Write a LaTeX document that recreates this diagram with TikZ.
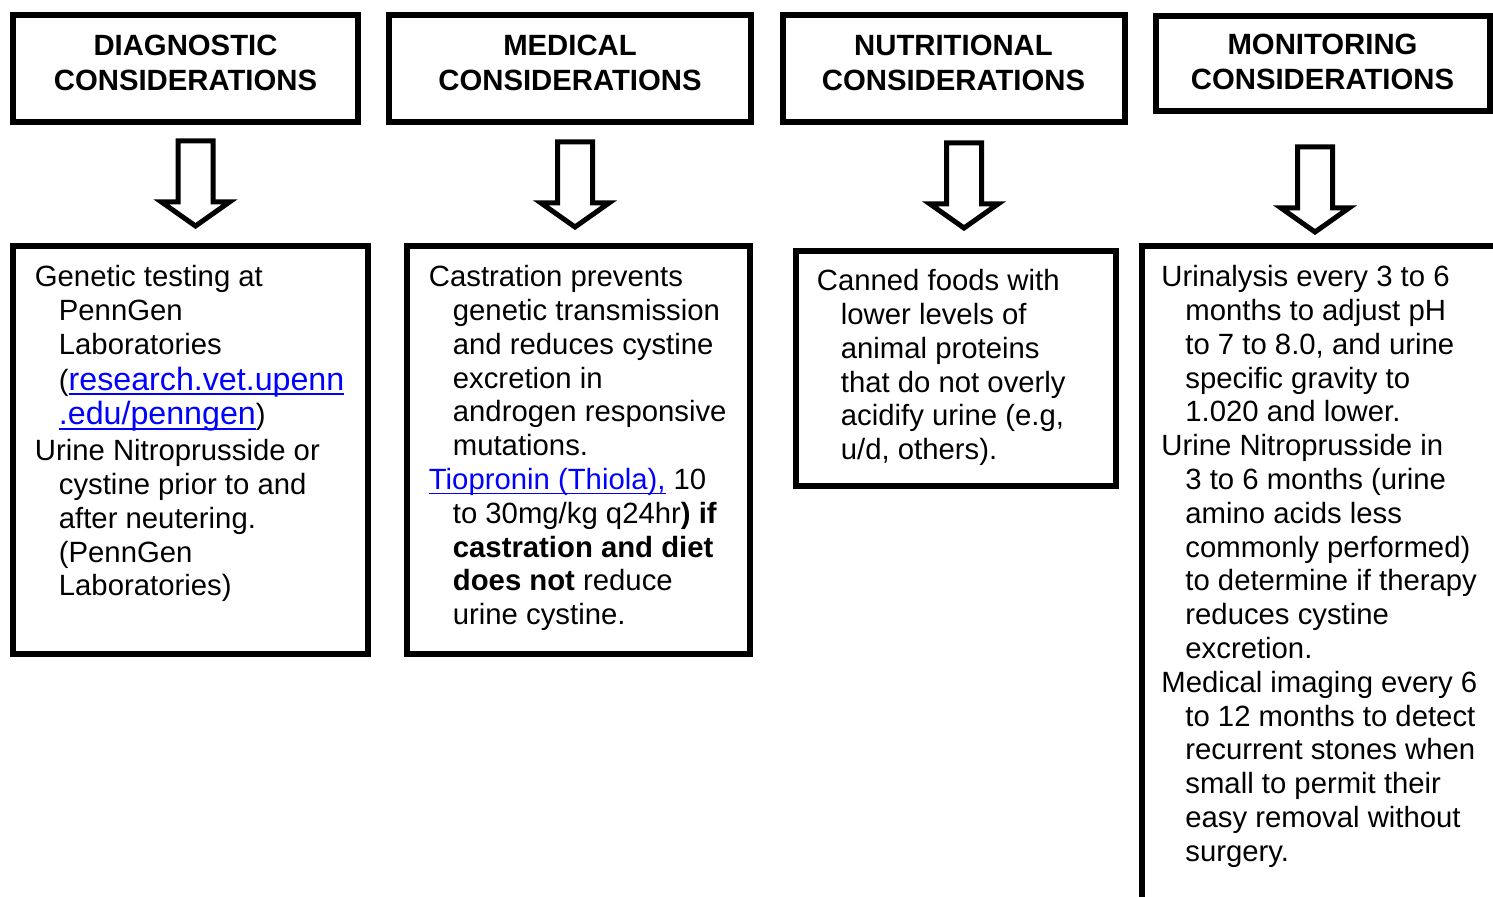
\documentclass[tikz,border=0pt]{standalone}
\usepackage{fontspec}
\setmainfont{Liberation Sans}
\definecolor{linkblue}{RGB}{0,0,255}
\newsavebox{\lnkbox}
\newcommand{\lnk}[1]{\textcolor{linkblue}{\sbox{\lnkbox}{#1}\rlap{\rule[-2.5pt]{\wd\lnkbox}{0.9pt}}\usebox{\lnkbox}}}
\newcommand{\biglnk}[1]{{\fontsize{16.1}{16.9}\selectfont\lnk{#1}}}
\newcommand{\hin}{\hspace*{12pt}}

\begin{document}
\begin{tikzpicture}[x=0.5pt,y=-0.5pt,
    frame/.style={line width=3pt},
    headtext/.style={font={\fontsize{14.65}{17.5}\selectfont\bfseries}, align=center, inner sep=0pt},
    bodytext/.style={font={\fontsize{14.65}{16.9}\selectfont}, align=left, inner sep=0pt, anchor=north west},
    blockarrow/.style={line width=2.5pt, line join=miter, fill=white}]
		\useasboundingbox (0,0) rectangle (1493,897);
		\clip (0,0) rectangle (1493,897);
		
		% Header boxes
		\draw[frame] (13,15.5) rectangle (357.5,121.7);
		\draw[frame] (389,15.5) rectangle (751,121.7);
		\draw[frame] (783,15.5) rectangle (1124.5,121.7);
		\draw[frame] (1156,16) rectangle (1490,111);
		\node[headtext] (diaghead) at (185.5,62.5) {DIAGNOSTIC\\CONSIDERATIONS};
		\node[headtext] (medhead) at (570,62.5) {MEDICAL\\CONSIDERATIONS};
		\node[headtext] (nutrhead) at (953.5,62.5) {NUTRITIONAL\\CONSIDERATIONS};
		\node[headtext] (monhead) at (1322.5,61.5) {MONITORING\\CONSIDERATIONS};
		
		% Block arrows
		\foreach \ax/\ay in {195.5/141,575/142,964/143,1315/147}
		\draw[blockarrow, shift={(\ax,\ay)}] (-17.5,0) -- (17.5,0) -- (17.5,61) -- (34,61) -- (0,85) -- (-34,61) -- (-17.5,61) -- cycle;
		
		% Lower boxes
		\draw[frame] (13,246) rectangle (367.5,653.5);
		\draw[frame] (407,246) rectangle (750,653.5);
		\draw[frame] (795.5,251.5) rectangle (1115.5,486.5);
		\draw[frame] (1141.5,246) rectangle (1530,930);
		
		% Texts
		\node[bodytext] (diagtext) at (34.5,265) {Genetic testing at\\
			\hin PennGen\\
			\hin Laboratories\\[1pt]
			\hin (\biglnk{research.vet.upenn}\\[0.5pt]
			\hin \biglnk{.edu/penngen})\\[1pt]
			Urine Nitroprusside or\\
			\hin cystine prior to and\\
			\hin after neutering.\\
			\hin (PennGen\\
			\hin Laboratories)};
		\node[bodytext] (medtext) at (428.5,265) {Castration prevents\\
			\hin genetic transmission\\
			\hin and reduces cystine\\
			\hin excretion in\\
			\hin androgen responsive\\
			\hin mutations.\\
			\lnk{Tiopronin (Thiola),} 10\\
			\hin to 30mg/kg q24hr\textbf{) if}\\
			\hin \textbf{castration and diet}\\
			\hin \textbf{does not} reduce\\
			\hin urine cystine.};
		\node[bodytext] (nutrtext) at (816.5,269) {Canned foods with\\
			\hin lower levels of\\
			\hin animal proteins\\
			\hin that do not overly\\
			\hin acidify urine (e.g,\\
			\hin u/d, others).};
		\node[bodytext] (montext) at (1161,265) {Urinalysis every 3 to 6\\
			\hin months to adjust pH\\
			\hin to 7 to 8.0, and urine\\
			\hin specific gravity to\\
			\hin 1.020 and lower.\\
			Urine Nitroprusside in\\
			\hin 3 to 6 months (urine\\
			\hin amino acids less\\
			\hin commonly performed)\\
			\hin to determine if therapy\\
			\hin reduces cystine\\
			\hin excretion.\\
			Medical imaging every 6\\
			\hin to 12 months to detect\\
			\hin recurrent stones when\\
			\hin small to permit their\\
			\hin easy removal without\\
			\hin surgery.};
		\end{tikzpicture}
\end{document}
